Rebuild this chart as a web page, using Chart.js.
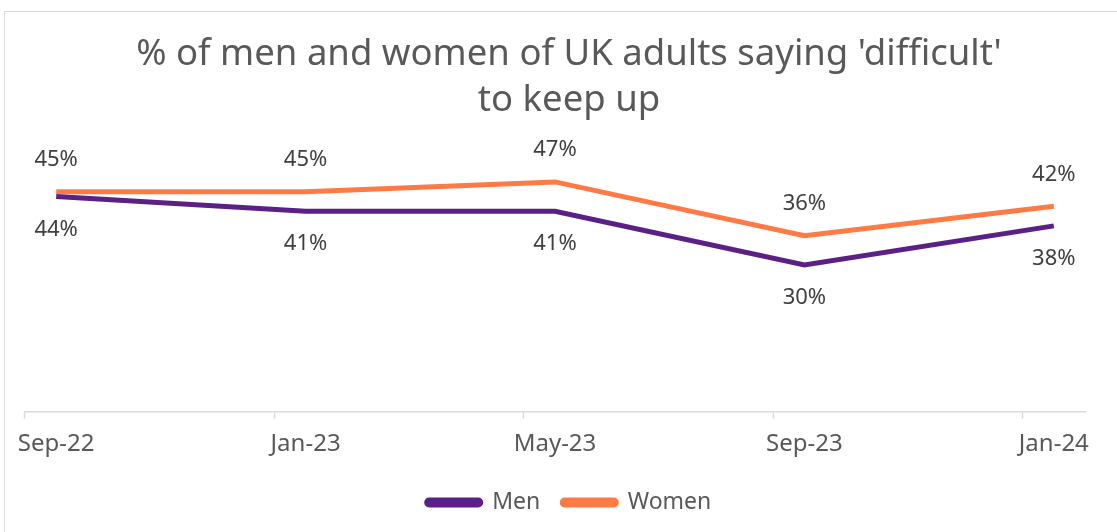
<!DOCTYPE html>
<html>
<head>
<meta charset="utf-8">
<script src="https://cdn.jsdelivr.net/npm/chart.js@4.4.0/dist/chart.umd.min.js"></script>
<style>
  html, body { margin: 0; padding: 0; background: #fff; overflow: hidden; }
  #frame { position: absolute; left: 4px; top: 11px; width: 1140px; height: 560px; border: 1.5px solid #d9d9d9; box-sizing: border-box; }
  #wrap { position: absolute; left: 0; top: 0; width: 1117px; height: 532px; }
</style>
</head>
<body>
<div id="frame"></div>
<div id="wrap"><canvas id="chart"></canvas></div>
<script>
const categories = ["Sep-22", "Jan-23", "May-23", "Sep-23", "Jan-24"];
const menValues = [44, 41, 41, 30, 38];
const womenValues = [45, 45, 47, 36, 42];
const tickLabels = ["Sep-22", "Jan-23", "May-23", "Sep-23", "Jan-24"];

// monthly date axis from first to last survey month
const monthNames = ["Jan", "Feb", "Mar", "Apr", "May", "Jun", "Jul", "Aug", "Sep", "Oct", "Nov", "Dec"];
const axisMonths = [];
for (let y = 22, m = 8; ; m++) {
  if (m > 11) { m = 0; y++; }
  const lbl = monthNames[m] + "-" + y;
  axisMonths.push(lbl);
  if (lbl === categories[categories.length - 1]) break;
}

const pointLabels = {
  id: "pointLabels",
  afterDatasetsDraw(chart) {
    const ctx = chart.ctx;
    ctx.save();
    ctx.font = "22px 'Noto Sans'";
    ctx.fillStyle = "#404040";
    ctx.textAlign = "center";
    ctx.textBaseline = "middle";
    chart.data.datasets.forEach((ds, di) => {
      const meta = chart.getDatasetMeta(di);
      meta.data.forEach((pt, i) => {
        const dy = ds.labelAbove ? -32 : 33;
        ctx.fillText(ds.data[i].y + "%", pt.x, pt.y + dy);
      });
    });
    ctx.restore();
  }
};

new Chart(document.getElementById("chart"), {
  type: "line",
  data: {
    labels: axisMonths,
    datasets: [
      {
        label: "Men",
        data: categories.map((c, i) => ({ x: c, y: menValues[i] })),
        borderColor: "#5b2086",
        backgroundColor: "#5b2086",
        borderWidth: 5,
        pointRadius: 0,
        tension: 0,
        labelAbove: false,
      },
      {
        label: "Women",
        data: categories.map((c, i) => ({ x: c, y: womenValues[i] })),
        borderColor: "#ff7a45",
        backgroundColor: "#ff7a45",
        borderWidth: 5,
        pointRadius: 0,
        tension: 0,
        labelAbove: true,
      },
    ],
  },
  options: {
    responsive: true,
    maintainAspectRatio: false,
    animation: false,
    layout: { padding: { left: 25, right: 4, top: 12, bottom: 8 } },
    scales: {
      x: {
        type: "category",
        offset: true,
        grid: {
          offset: true,
          drawOnChartArea: false,
          drawTicks: true,
          tickLength: 7,
          tickWidth: 1.5,
          tickColor: (c) => (c.index % 4 === 0 ? "#d9d9d9" : "rgba(0,0,0,0)"),
        },
        border: { display: true, color: "#d9d9d9", width: 1.5 },
        ticks: {
          autoSkip: false,
          maxRotation: 0,
          padding: 3,
          color: "#595959",
          font: { family: "'Noto Sans'", size: 24, lineHeight: 1.85 },
          callback: function (value, index) {
            const l = axisMonths[index];
            return tickLabels.includes(l) ? l : "";
          },
        },
      },
      y: {
        display: true,
        position: "right",
        min: 0,
        max: 59,
        grid: { display: false },
        border: { display: false },
        ticks: { display: false },
        afterFit: (scale) => { scale.width = 28; },
      },
    },
    plugins: {
      legend: {
        position: "bottom",
        labels: {
          boxWidth: 54,
          boxHeight: 5,
          padding: 22,
          useBorderRadius: true,
          borderRadius: 2.5,
          color: "#595959",
          font: { family: "'Noto Sans'", size: 23 },
        },
      },
      title: {
        display: true,
        text: ["% of men and women of UK adults saying 'difficult'", "to keep up"],
        color: "#595959",
        font: { family: "'Noto Sans'", size: 36.5, weight: "normal", lineHeight: 1.25 },
        padding: { top: 20, bottom: 0 },
      },
      tooltip: { enabled: false },
    },
  },
  plugins: [pointLabels],
});
</script>
</body>
</html>
